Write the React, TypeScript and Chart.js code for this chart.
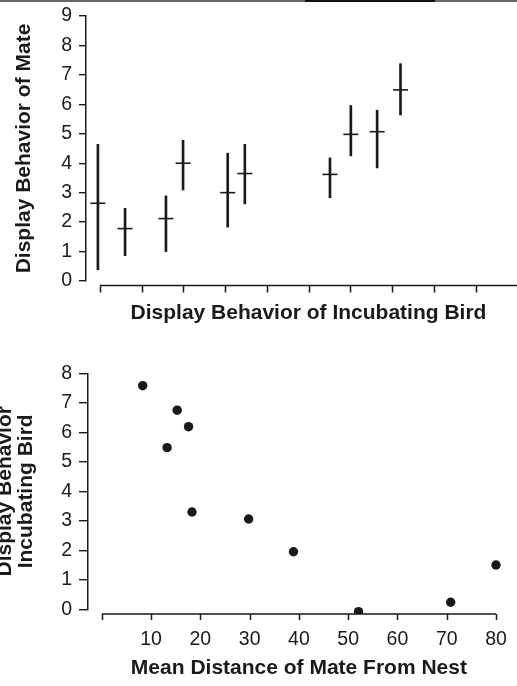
import React, { useEffect, useRef } from "react";
import { Chart, registerables } from "chart.js";
import type { Plugin } from "chart.js";

Chart.register(...registerables);

// ---- Upper panel: display of mate against display of incubating bird ----
const incubatingScore = [-0.05, 0.6, 1.58, 1.99, 3.06, 3.47, 5.51, 6.01, 6.64, 7.2];
const mateMean = [2.64, 1.78, 2.12, 4.0, 3.0, 3.65, 3.62, 4.98, 5.07, 6.49];
const mateLow = [0.38, 0.86, 1.0, 3.09, 1.83, 2.62, 2.83, 4.25, 3.84, 5.64];
const mateHigh = [4.64, 2.47, 2.89, 4.78, 4.34, 4.64, 4.18, 5.96, 5.8, 7.38];
const upperXTicks = [0, 1, 2, 3, 4, 5, 6, 7, 8, 9];
const upperYTicks = [0, 1, 2, 3, 4, 5, 6, 7, 8, 9];

// ---- Lower panel: display of incubating bird against distance of mate ----
const mateDistance = [8.3, 13.25, 15.3, 17.6, 18.3, 29.8, 38.9, 52.1, 70.8, 80.0];
const incubatingDisplay = [7.58, 5.48, 6.75, 6.19, 3.3, 3.06, 1.95, -0.08, 0.24, 1.5];
const lowerXTicks = [0, 10, 20, 30, 40, 50, 60, 70, 80];
const lowerXLabels = [10, 20, 30, 40, 50, 60, 70, 80];
const lowerYTicks = [0, 1, 2, 3, 4, 5, 6, 7, 8];

const INK = "#1a1a1a";
const FAMILY = '"Liberation Sans", Arial, Helvetica, sans-serif';
const tickFont = { family: FAMILY, size: 19.5, lineHeight: 0.9 };

type AxisCfg = {
  ticks: number[];
  lineFrom: number;
  lineTo: number | null;
  drop: number;
  tickLen: number;
  xTitle: string;
  xTitleY: number;
  yTitle: string[];
  yTitleX: number[];
};

// Detached x axis (sitting just below y = 0) plus both axis titles.
function paperAxes(cfg: AxisCfg): Plugin {
  return {
    id: "paperAxes",
    afterDraw(chart) {
      const { ctx, chartArea } = chart;
      const x = chart.scales.x;
      const y = chart.scales.y;
      const axisY = y.getPixelForValue(0) + cfg.drop;
      const x0 = x.getPixelForValue(cfg.lineFrom);
      const x1 = cfg.lineTo == null ? chart.width : x.getPixelForValue(cfg.lineTo);
      ctx.save();
      ctx.strokeStyle = INK;
      ctx.lineWidth = 1.5;
      ctx.beginPath();
      ctx.moveTo(x0, axisY);
      ctx.lineTo(x1, axisY);
      for (const t of cfg.ticks) {
        const px = Math.round(x.getPixelForValue(t)) + 0.5;
        ctx.moveTo(px, axisY);
        ctx.lineTo(px, axisY + cfg.tickLen);
      }
      ctx.stroke();

      ctx.fillStyle = INK;
      ctx.font = `bold 21px ${FAMILY}`;
      ctx.textAlign = "center";
      ctx.textBaseline = "middle";
      ctx.fillText(cfg.xTitle, (x0 + x1) / 2, cfg.xTitleY);
      const midY = (chartArea.top + chartArea.bottom) / 2;
      cfg.yTitle.forEach((line, i) => {
        ctx.save();
        ctx.translate(cfg.yTitleX[i], midY);
        ctx.rotate(-Math.PI / 2);
        ctx.fillText(line, 0, 0);
        ctx.restore();
      });
      ctx.restore();
    },
  };
}

function yAxis(min: number, max: number, ticks: number[], width: number, tickLen: number, pad: number) {
  return {
    type: "linear" as const,
    min,
    max,
    afterBuildTicks: (scale: any) => {
      scale.ticks = ticks.map((v) => ({ value: v }));
    },
    afterFit: (scale: any) => {
      scale.width = width;
    },
    ticks: { color: INK, font: tickFont, padding: pad },
    grid: { drawOnChartArea: false, drawTicks: true, tickLength: tickLen, color: INK, lineWidth: 1.4 },
    border: { display: true, color: INK, width: 1.5 },
  };
}

export default function App() {
  const topRef = useRef<HTMLCanvasElement>(null);
  const bottomRef = useRef<HTMLCanvasElement>(null);

  useEffect(() => {
    const upper = new Chart(topRef.current!, {
      type: "scatter",
      data: {
        datasets: [
          {
            // vertical range of each group as a floating bar
            type: "bar",
            data: incubatingScore.map((v, i) => ({ x: v, y: [mateLow[i], mateHigh[i]] })) as any,
            backgroundColor: INK,
            borderWidth: 0,
            barThickness: 2,
          } as any,
          {
            // group mean as a short horizontal stroke
            type: "scatter",
            data: incubatingScore.map((v, i) => ({ x: v, y: mateMean[i] })),
            pointStyle: "line",
            radius: 7.5,
            borderColor: INK,
            borderWidth: 1.6,
          },
        ],
      },
      options: {
        responsive: false,
        devicePixelRatio: 1,
        animation: false,
        layout: { padding: { top: 16, right: 0, bottom: 0, left: 0 } },
        plugins: { legend: { display: false }, tooltip: { enabled: false } },
        scales: {
          x: {
            type: "linear",
            min: -0.3354,
            max: 9.773,
            offset: false,
            afterFit: (scale: any) => {
              scale.height = 49;
            },
            ticks: { display: false },
            grid: { display: false, offset: false },
            border: { display: false },
          },
          y: yAxis(0, 9, upperYTicks, 86, 7, 7) as any,
        },
      },
      plugins: [
        paperAxes({
          ticks: upperXTicks,
          lineFrom: 0,
          lineTo: null,
          drop: 4.5,
          tickLen: 7,
          xTitle: "Display Behavior of Incubating Bird",
          xTitleY: 313,
          yTitle: ["Display Behavior of Mate"],
          yTitleX: [24],
        }),
      ],
    });

    const lower = new Chart(bottomRef.current!, {
      type: "scatter",
      data: {
        datasets: [
          {
            data: mateDistance.map((v, i) => ({ x: v, y: incubatingDisplay[i] })),
            pointStyle: "circle",
            radius: 4.7,
            backgroundColor: INK,
            borderColor: INK,
            borderWidth: 0,
            clip: { left: 10, right: 10, top: 10, bottom: 4.7 } as any,
          },
        ],
      },
      options: {
        responsive: false,
        devicePixelRatio: 1,
        animation: false,
        layout: { padding: { top: 43.3, right: 1.3, bottom: 0, left: 0 } },
        plugins: { legend: { display: false }, tooltip: { enabled: false } },
        scales: {
          x: {
            type: "linear",
            min: -2.8006,
            max: 83.307,
            afterBuildTicks: (scale: any) => {
              scale.ticks = lowerXLabels.map((v) => ({ value: v }));
            },
            afterFit: (scale: any) => {
              scale.height = 76.7;
            },
            ticks: { color: INK, font: { family: FAMILY, size: 19.5 }, padding: 0, maxRotation: 0 },
            grid: { display: false, drawTicks: true, tickLength: 19 },
            border: { display: false },
          },
          y: yAxis(0, 8, lowerYTicks, 88, 9, 7) as any,
        },
      },
      plugins: [
        paperAxes({
          ticks: lowerXTicks,
          lineFrom: 0,
          lineTo: 80,
          drop: 4.7,
          tickLen: 6,
          xTitle: "Mean Distance of Mate From Nest",
          xTitleY: 338,
          yTitle: ["Display Behavior", "Incubating Bird"],
          yTitleX: [5, 26],
        }),
      ],
    });

    return () => {
      upper.destroy();
      lower.destroy();
    };
  }, []);

  return (
    <div style={{ position: "absolute", left: 0, top: 0, width: 517, height: 686, background: "#fff", overflow: "hidden" }}>
      <canvas ref={topRef} width={517} height={330} style={{ position: "absolute", left: 0, top: 0, width: 517, height: 330 }} />
      <canvas ref={bottomRef} width={517} height={356} style={{ position: "absolute", left: 0, top: 330, width: 517, height: 356 }} />
      <div style={{ position: "absolute", left: 0, top: 0, width: 517, height: 2, background: "#666" }} />
      <div style={{ position: "absolute", left: 305, top: 0, width: 130, height: 2, background: "#111" }} />
    </div>
  );
}
